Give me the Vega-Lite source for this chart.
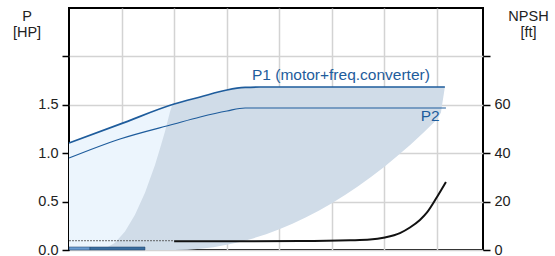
{
  "$schema": "https://vega.github.io/schema/vega-lite/v6.json",
  "width": 414,
  "height": 242,
  "autosize": {"type": "none"},
  "padding": {"left": 69, "top": 8, "right": 72, "bottom": 6},
  "background": "white",
  "config": {
    "view": {"stroke": "#000000", "strokeWidth": 2},
    "font": "Liberation Sans",
    "axis": {
      "labelFont": "Liberation Sans",
      "titleFont": "Liberation Sans",
      "labelFontSize": 14.5,
      "titleFontSize": 14.5,
      "labelColor": "#222222",
      "titleColor": "#222222",
      "titleFontWeight": "normal",
      "tickColor": "#000000",
      "tickWidth": 1.5,
      "tickSize": 7,
      "domain": false,
      "gridColor": "#d3d3d3",
      "gridWidth": 1.5,
      "labelFlush": false,
      "labelOverlap": false,
      "zindex": 1
    }
  },
  "datasets": {
    "light": [
      {"q": 0, "p": 1.105, "lo": 0},
      {"q": 1.94, "p": 1.30, "lo": 0},
      {"q": 4.0, "p": 1.508, "lo": 0}
    ],
    "dark": [
      {"q": 1.065, "p": 0, "lo": 0},
      {"q": 1.370, "p": 0.014, "lo": 0},
      {"q": 1.750, "p": 0.075, "lo": 0},
      {"q": 2.130, "p": 0.191, "lo": 0},
      {"q": 2.511, "p": 0.363, "lo": 0},
      {"q": 2.891, "p": 0.592, "lo": 0},
      {"q": 3.272, "p": 0.879, "lo": 0},
      {"q": 3.462, "p": 1.048, "lo": 0},
      {"q": 3.652, "p": 1.223, "lo": 0},
      {"q": 3.843, "p": 1.427, "lo": 0},
      {"q": 3.919, "p": 1.49, "lo": 0},
      {"q": 4.0, "p": 1.508, "lo": 0},
      {"q": 4.5, "p": 1.547, "lo": 0.003},
      {"q": 5.0, "p": 1.581, "lo": 0.013},
      {"q": 5.5, "p": 1.618, "lo": 0.029},
      {"q": 6.0, "p": 1.653, "lo": 0.053},
      {"q": 6.5, "p": 1.672, "lo": 0.083},
      {"q": 7.0, "p": 1.682, "lo": 0.120},
      {"q": 7.5, "p": 1.684, "lo": 0.163},
      {"q": 8.0, "p": 1.684, "lo": 0.214},
      {"q": 8.5, "p": 1.684, "lo": 0.271},
      {"q": 9.0, "p": 1.684, "lo": 0.335},
      {"q": 9.5, "p": 1.684, "lo": 0.406},
      {"q": 10.0, "p": 1.684, "lo": 0.483},
      {"q": 10.5, "p": 1.684, "lo": 0.568},
      {"q": 11.0, "p": 1.684, "lo": 0.659},
      {"q": 11.5, "p": 1.684, "lo": 0.757},
      {"q": 12.0, "p": 1.684, "lo": 0.861},
      {"q": 12.5, "p": 1.684, "lo": 0.973},
      {"q": 13.0, "p": 1.684, "lo": 1.091},
      {"q": 13.5, "p": 1.684, "lo": 1.216},
      {"q": 14.0, "p": 1.684, "lo": 1.348},
      {"q": 14.15, "p": 1.684, "lo": 1.42},
      {"q": 14.30, "p": 1.684, "lo": 1.684}
    ],
    "bars": [
      {"q": 0, "q2": 0.8, "p": 0.031, "lo": 0, "kind": "a"},
      {"q": 0.8, "q2": 2.89, "p": 0.031, "lo": 0, "kind": "b"}
    ],
    "p1": [
      {"q": 0, "p": 1.105},
      {"q": 1.94, "p": 1.30},
      {"q": 4.0, "p": 1.508},
      {"q": 4.99, "p": 1.581},
      {"q": 6.01, "p": 1.653},
      {"q": 6.70, "p": 1.679},
      {"q": 7.27, "p": 1.684},
      {"q": 14.30, "p": 1.684}
    ],
    "p2": [
      {"q": 0, "p": 0.950},
      {"q": 1.94, "p": 1.147},
      {"q": 4.0, "p": 1.302},
      {"q": 4.99, "p": 1.374},
      {"q": 6.01, "p": 1.436},
      {"q": 6.70, "p": 1.467},
      {"q": 14.34, "p": 1.467}
    ],
    "labels": [
      {"q": 6.96, "p": 1.761, "label": "P1 (motor+freq.converter)"},
      {"q": 13.38, "p": 1.336, "label": "P2"}
    ],
    "npshDash": [
      {"q": 0, "h": 3.84},
      {"q": 4.0, "h": 3.84}
    ],
    "npsh": [
      {"q": 4.0, "h": 3.6},
      {"q": 8.79, "h": 3.7},
      {"q": 10.69, "h": 4.0},
      {"q": 11.45, "h": 4.3},
      {"q": 12.02, "h": 5.2},
      {"q": 12.59, "h": 7.0},
      {"q": 12.97, "h": 9.3},
      {"q": 13.35, "h": 12.4},
      {"q": 13.62, "h": 15.5},
      {"q": 14.0, "h": 21.9},
      {"q": 14.34, "h": 28.1}
    ]
  },
  "encoding": {
    "x": {
      "field": "q",
      "type": "quantitative",
      "scale": {"domain": [0, 15.75], "nice": false, "zero": false},
      "axis": {
        "values": [2, 4, 6, 8, 10, 12, 14],
        "labels": false,
        "ticks": false,
        "title": null,
        "grid": true
      }
    }
  },
  "layer": [
    {
      "encoding": {
        "y": {
          "field": "p",
          "type": "quantitative",
          "scale": {"domain": [0, 2.5], "nice": false, "zero": false},
          "axis": {
            "orient": "left",
            "values": [0, 0.5, 1, 1.5, 2],
            "labelExpr": "datum.value >= 2 ? '' : format(datum.value, '.1f')",
            "labelPadding": 4,
            "grid": true,
            "title": ["P", "[HP]"],
            "titleAngle": 0,
            "titleAlign": "center",
            "titleBaseline": "top",
            "titleLineHeight": 16,
            "titleX": -42.5,
            "titleY": 1
          }
        }
      },
      "layer": [
        {
          "data": {"name": "light"},
          "mark": {"type": "area", "interpolate": "monotone", "color": "#ecf5fd"},
          "encoding": {"y2": {"field": "lo"}}
        },
        {
          "data": {"name": "dark"},
          "mark": {"type": "area", "interpolate": "linear", "color": "#d0dce8"},
          "encoding": {"y2": {"field": "lo"}}
        },
        {
          "data": {"name": "bars"},
          "mark": {"type": "rect", "stroke": "#1d3f66", "strokeWidth": 0.5},
          "encoding": {
            "x2": {"field": "q2"},
            "y2": {"field": "lo"},
            "color": {
              "field": "kind",
              "type": "nominal",
              "scale": {"domain": ["a", "b"], "range": ["#6a9bd0", "#3b6d9f"]},
              "legend": null
            }
          }
        },
        {
          "data": {"name": "p1"},
          "mark": {"type": "line", "interpolate": "monotone", "color": "#1e5c9c", "strokeWidth": 1.7},
          "encoding": {}
        },
        {
          "data": {"name": "p2"},
          "mark": {"type": "line", "interpolate": "monotone", "color": "#1e5c9c", "strokeWidth": 1.2},
          "encoding": {}
        },
        {
          "data": {"name": "labels"},
          "mark": {"type": "text", "align": "left", "baseline": "alphabetic", "color": "#1e5c9c", "fontSize": 15.5, "font": "Liberation Sans"},
          "encoding": {"text": {"field": "label"}}
        }
      ]
    },
    {
      "encoding": {
        "y": {
          "field": "h",
          "type": "quantitative",
          "scale": {"domain": [0, 100], "nice": false, "zero": false},
          "axis": {
            "orient": "right",
            "values": [0, 20, 40, 60, 80],
            "labelExpr": "datum.value >= 80 ? '' : datum.label",
            "labelPadding": 4,
            "grid": false,
            "title": ["NPSH", "[ft]"],
            "titleAngle": 0,
            "titleAlign": "center",
            "titleBaseline": "top",
            "titleLineHeight": 16,
            "titleX": 45,
            "titleY": 1
          }
        }
      },
      "layer": [
        {
          "data": {"name": "npshDash"},
          "mark": {"type": "line", "color": "#555555", "strokeWidth": 0.9, "strokeDash": [2, 1]},
          "encoding": {}
        },
        {
          "data": {"name": "npsh"},
          "mark": {"type": "line", "interpolate": "monotone", "color": "#111111", "strokeWidth": 2},
          "encoding": {}
        }
      ]
    }
  ],
  "resolve": {"scale": {"y": "independent"}}
}
